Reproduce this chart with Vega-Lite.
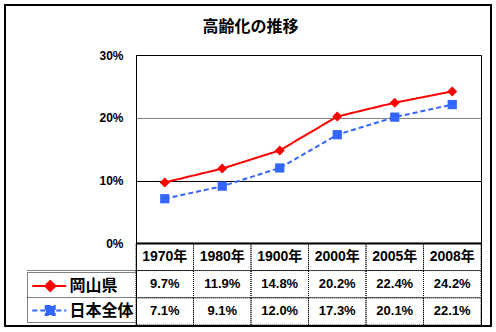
{
  "$schema": "https://vega.github.io/schema/vega-lite/v6.json",
  "width": 345,
  "height": 270,
  "autosize": {"type": "none"},
  "padding": {"left": 136, "top": 55, "right": 15, "bottom": 7},
  "background": "white",
  "config": {"view": {"stroke": "black", "strokeWidth": 1}, "font": "Liberation Sans"},
  "title": {"text": "高齢化の推移", "font": "Noto Sans CJK JP", "fontSize": 16, "fontWeight": "bold", "color": "black", "anchor": "middle", "frame": "group", "dx": -58, "offset": -30},
  "data": {"values": [
    {"year": "1970年", "series": "岡山県", "value": 0.097},
    {"year": "1980年", "series": "岡山県", "value": 0.119},
    {"year": "1900年", "series": "岡山県", "value": 0.148},
    {"year": "2000年", "series": "岡山県", "value": 0.202},
    {"year": "2005年", "series": "岡山県", "value": 0.224},
    {"year": "2008年", "series": "岡山県", "value": 0.242},
    {"year": "1970年", "series": "日本全体", "value": 0.071},
    {"year": "1980年", "series": "日本全体", "value": 0.091},
    {"year": "1900年", "series": "日本全体", "value": 0.120},
    {"year": "2000年", "series": "日本全体", "value": 0.173},
    {"year": "2005年", "series": "日本全体", "value": 0.201},
    {"year": "2008年", "series": "日本全体", "value": 0.221}
  ]},
  "encoding": {
    "x": {"field": "year", "type": "nominal", "sort": null,
      "scale": {"domain": ["1970年", "1980年", "1900年", "2000年", "2005年", "2008年"], "paddingInner": 0, "paddingOuter": 0},
      "axis": null}
  },
  "layer": [
    {
      "encoding": {
        "y": {"field": "value", "type": "quantitative",
          "scale": {"domain": [-0.1302, 0.3], "nice": false, "zero": false},
          "axis": {"orient": "left", "values": [0, 0.1, 0.2, 0.3], "format": ".0%",
            "labelFont": "Liberation Sans", "labelFontSize": 12, "labelFontWeight": "bold", "labelColor": "black",
            "labelPadding": 13, "ticks": false, "tickSize": 0, "domain": false,
            "grid": true, "gridColor": "black", "gridOpacity": 1,
            "gridDash": {"condition": {"test": "datum.value >= 0.15", "value": [1, 1]}, "value": []},
            "gridWidth": {"condition": {"test": "datum.value === 0", "value": 2}, "value": 1},
            "title": null}}
      },
      "layer": [
        {
          "mark": {"type": "line", "strokeWidth": 2},
          "encoding": {
            "color": {"field": "series", "type": "nominal",
              "scale": {"domain": ["岡山県", "日本全体"], "range": ["#FF0000", "#3366FF"]},
              "legend": {"orient": "none", "legendX": -109, "legendY": 217, "title": null,
                "symbolSize": 462, "symbolStrokeWidth": 2,
                "labelFont": "Noto Sans CJK JP", "labelFontSize": 16, "labelFontWeight": "bold", "labelColor": "black",
                "labelOffset": 16.5, "padding": 2, "rowPadding": 3.5, "strokeColor": "black",
                "encode": {
                  "symbols": {"update": {
                    "shape": {"signal": "datum.value === '岡山県' ? 'M-0.814,0L2.349,0M0.86,-0.465L1.325,0L0.86,0.465L0.395,0Z' : 'M-0.814,0L2.349,0M0.441,-0.419L1.279,-0.419L1.279,0.419L0.441,0.419Z'"},
                    "fill": {"signal": "datum.value === '岡山県' ? '#FF0000' : '#3366FF'"},
                    "stroke": {"signal": "datum.value === '岡山県' ? '#FF0000' : '#3366FF'"},
                    "strokeDash": {"signal": "datum.value === '岡山県' ? [1, 0] : [2, 2]"},
                    "opacity": {"value": 1}
                  }},
                  "legend": {"update": {"strokeDash": {"value": [1, 1]}}}
                }}},
            "strokeDash": {"field": "series", "type": "nominal",
              "scale": {"domain": ["岡山県", "日本全体"], "range": [[1, 0], [5, 3]]}, "legend": null}
          }
        },
        {
          "transform": [{"filter": "datum.series === '岡山県'"}],
          "mark": {"type": "point", "filled": true, "opacity": 1, "size": 100, "shape": "diamond", "color": "#FF0000"}
        },
        {
          "transform": [{"filter": "datum.series === '日本全体'"}],
          "mark": {"type": "point", "filled": true, "opacity": 1, "size": 85, "shape": "square", "color": "#3366FF"}
        },
        {
          "mark": {"type": "text", "text": ""},
          "encoding": {
            "fill": {"field": "value", "type": "quantitative",
              "legend": {"orient": "none", "legendX": -131, "legendY": -50, "direction": "vertical",
                "gradientLength": 321, "gradientThickness": 486, "gradientStrokeColor": "black", "gradientStrokeWidth": 2,
                "title": null, "labelExpr": "''", "padding": 0,
                "encode": {"gradient": {"update": {"fillOpacity": {"value": 0}}}}}}
          }
        }
      ]
    },
    {
      "encoding": {
        "y": {"field": "series", "type": "nominal",
          "scale": {"domain": ["header", "岡山県", "日本全体"], "paddingInner": 0, "paddingOuter": 0, "range": [188.3, 270]},
          "axis": {"orient": "left", "values": ["岡山県", "日本全体"], "bandPosition": 0, "tickSize": 109,
            "tickDash": [1, 1], "tickColor": "black", "labels": false, "domain": false, "grid": false, "title": null}}
      },
      "layer": [
        {
          "transform": [{"filter": "datum.series === '岡山県'"}],
          "mark": {"type": "rect", "fillOpacity": 0, "stroke": "black", "strokeWidth": 1, "strokeDash": [1, 1]},
          "encoding": {"y": {"datum": "header", "type": "nominal"}}
        },
        {
          "mark": {"type": "rect", "fillOpacity": 0, "stroke": "black", "strokeWidth": 1, "strokeDash": [1, 1]}
        },
        {
          "transform": [{"filter": "datum.series === '岡山県'"}],
          "mark": {"type": "text", "font": "Liberation Sans, Noto Sans CJK JP", "fontSize": 14, "fontWeight": "bold", "color": "black"},
          "encoding": {"y": {"datum": "header", "type": "nominal"}, "text": {"field": "year"}}
        },
        {
          "mark": {"type": "text", "font": "Liberation Sans", "fontSize": 13, "fontWeight": "bold", "color": "black"},
          "encoding": {"text": {"field": "value", "format": ".1%"}}
        }
      ]
    }
  ],
  "resolve": {"scale": {"y": "independent"}, "axis": {"y": "independent"}}
}
